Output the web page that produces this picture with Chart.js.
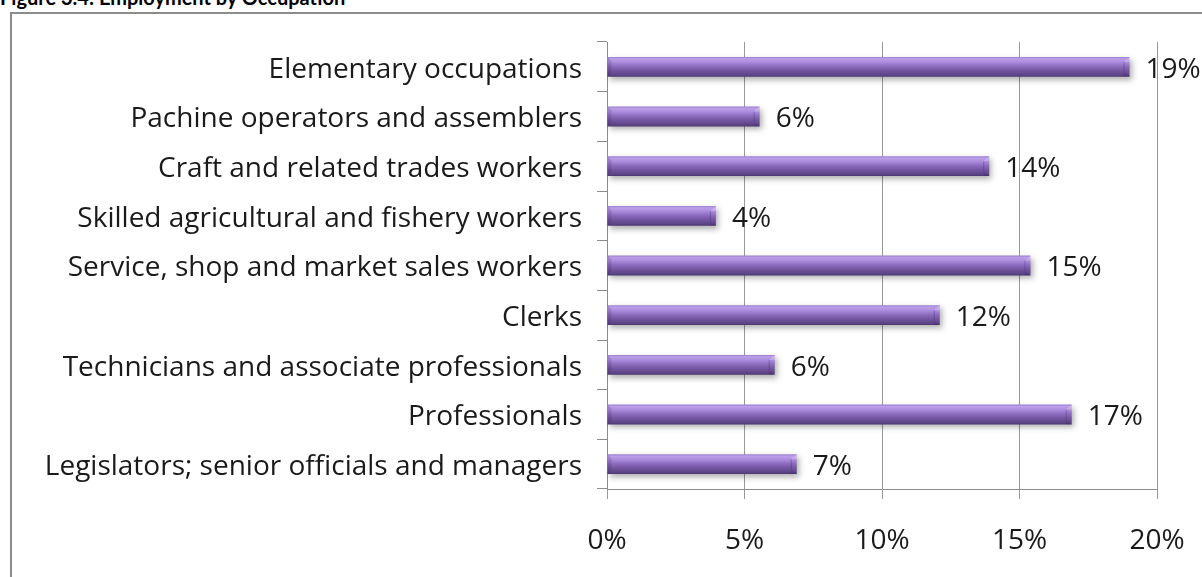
<!DOCTYPE html>
<html>
<head>
<meta charset="utf-8">
<script src="https://cdn.jsdelivr.net/npm/chart.js@4/dist/chart.umd.min.js"></script>
<style>
  html,body{margin:0;padding:0;background:#fff;overflow:hidden;}
  #wrap{position:relative;width:1202px;height:577px;overflow:hidden;}
  #title{position:absolute;left:0;top:-15px;font-family:Lato,"Open Sans",sans-serif;font-weight:bold;font-size:20px;color:#000;white-space:nowrap;}
  #box{position:absolute;left:10px;top:12px;width:1300px;height:700px;border:2px solid #8c8c8c;box-sizing:border-box;}
  #c{position:absolute;left:0;top:0;}
</style>
</head>
<body>
<div id="wrap">
  <div id="title">Figure 3.4: Employment by Occupation</div>
  <div id="box"></div>
  <canvas id="c" width="1202" height="577"></canvas>
</div>
<script>
const categories = [
  "Elementary occupations",
  "Pachine operators and assemblers",
  "Craft and related trades workers",
  "Skilled agricultural and fishery workers",
  "Service, shop and market sales workers",
  "Clerks",
  "Technicians and associate professionals",
  "Professionals",
  "Legislators; senior officials and managers"
];
const shares = [19.0, 5.55, 13.9, 3.96, 15.4, 12.1, 6.1, 16.9, 6.9];
const shareLabels = ["19%", "6%", "14%", "4%", "15%", "12%", "6%", "17%", "7%"];
const xTicks = [0, 5, 10, 15, 20];

const FONT = "'Open Sans'";
const FSIZE = 28;
const BAR_FRACTION = 0.4;

function barGradient(context) {
  const chart = context.chart;
  if (!chart.chartArea) return '#8466b8';
  const yScale = chart.scales.y;
  const cy = yScale.getPixelForValue(context.dataIndex);
  const half = (yScale.height / categories.length) * BAR_FRACTION / 2;
  const g = chart.ctx.createLinearGradient(0, cy - half, 0, cy + half);
  g.addColorStop(0.00, '#9a7fcc');
  g.addColorStop(0.10, '#bb9eea');
  g.addColorStop(0.25, '#ad8ede');
  g.addColorStop(0.45, '#8e6fc1');
  g.addColorStop(0.70, '#72549f');
  g.addColorStop(0.90, '#5d4588');
  g.addColorStop(1.00, '#4b376f');
  return g;
}

const shadowPlugin = {
  id: 'barShadow',
  beforeDatasetsDraw(chart) {
    const c = chart.ctx;
    c.save();
    c.shadowColor = 'rgba(0,0,0,0.32)';
    c.shadowBlur = 6;
    c.shadowOffsetX = 2;
    c.shadowOffsetY = 3;
  },
  afterDatasetsDraw(chart) {
    chart.ctx.restore();
    const c = chart.ctx;
    const meta = chart.getDatasetMeta(0);
    meta.data.forEach((bar) => {
      const top = bar.y - bar.height / 2, bot = bar.y + bar.height / 2;
      const x = bar.x, b = bar.base, d = 6;
      c.save();
      c.fillStyle = 'rgba(255,255,255,0.22)';
      c.beginPath();
      c.moveTo(x - d, top + 5); c.lineTo(x, top); c.lineTo(x, top + 5); c.closePath();
      c.fill();
      c.fillStyle = 'rgba(40,20,70,0.12)';
      c.beginPath();
      c.moveTo(x - d, bot - 5); c.lineTo(x, bot); c.lineTo(x - d, bot); c.closePath();
      c.fill();
      c.strokeStyle = 'rgba(60,40,100,0.35)';
      c.lineWidth = 1;
      c.beginPath();
      c.moveTo(x - d + 0.5, top + 5); c.lineTo(x - d + 0.5, bot - 5);
      c.stroke();
      c.fillStyle = 'rgba(40,20,70,0.15)';
      c.beginPath();
      c.moveTo(b, top); c.lineTo(b + 4, top + 4); c.lineTo(b + 4, bot - 4); c.lineTo(b, bot); c.closePath();
      c.fill();
      c.restore();
    });
    c.save();
    c.font = FSIZE + 'px ' + FONT;
    c.fillStyle = '#1a1a1a';
    c.textAlign = 'left';
    c.textBaseline = 'middle';
    meta.data.forEach((bar, i) => {
      c.fillText(shareLabels[i], bar.x + 16, bar.y + 3);
    });
    c.restore();
  }
};

new Chart(document.getElementById('c'), {
  type: 'bar',
  data: {
    labels: categories,
    datasets: [{
      data: shares,
      backgroundColor: barGradient,
      borderWidth: 0,
      categoryPercentage: 0.8,
      barPercentage: 0.5
    }]
  },
  options: {
    indexAxis: 'y',
    responsive: false,
    animation: false,
    devicePixelRatio: 1,
    layout: { padding: { top: 42, right: 45, left: 0, bottom: 0 } },
    plugins: { legend: { display: false }, tooltip: { enabled: false } },
    scales: {
      x: {
        min: 0, max: 20,
        afterBuildTicks(scale) { scale.ticks = xTicks.map(v => ({ value: v })); },
        afterFit(scale) { scale.height = 577 - 489; scale.paddingRight = 0; scale.paddingLeft = 0; },
        ticks: {
          callback: (v) => v + '%',
          color: '#1a1a1a',
          font: { family: FONT, size: FSIZE },
          padding: 25,
          maxRotation: 0
        },
        grid: { color: '#999999', lineWidth: 1, tickLength: 10, drawTicks: true },
        border: { color: '#8c8c8c', width: 1 }
      },
      y: {
        afterFit(scale) { scale.width = 607; scale.paddingTop = 0; scale.paddingBottom = 0; },
        ticks: {
          color: '#1a1a1a',
          font: { family: FONT, size: FSIZE },
          padding: 15,
          labelOffset: 3
        },
        grid: { drawOnChartArea: false, color: '#8c8c8c', tickLength: 10, offset: true },
        border: { color: '#8c8c8c', width: 1 }
      }
    }
  },
  plugins: [shadowPlugin]
});
</script>
</body>
</html>
